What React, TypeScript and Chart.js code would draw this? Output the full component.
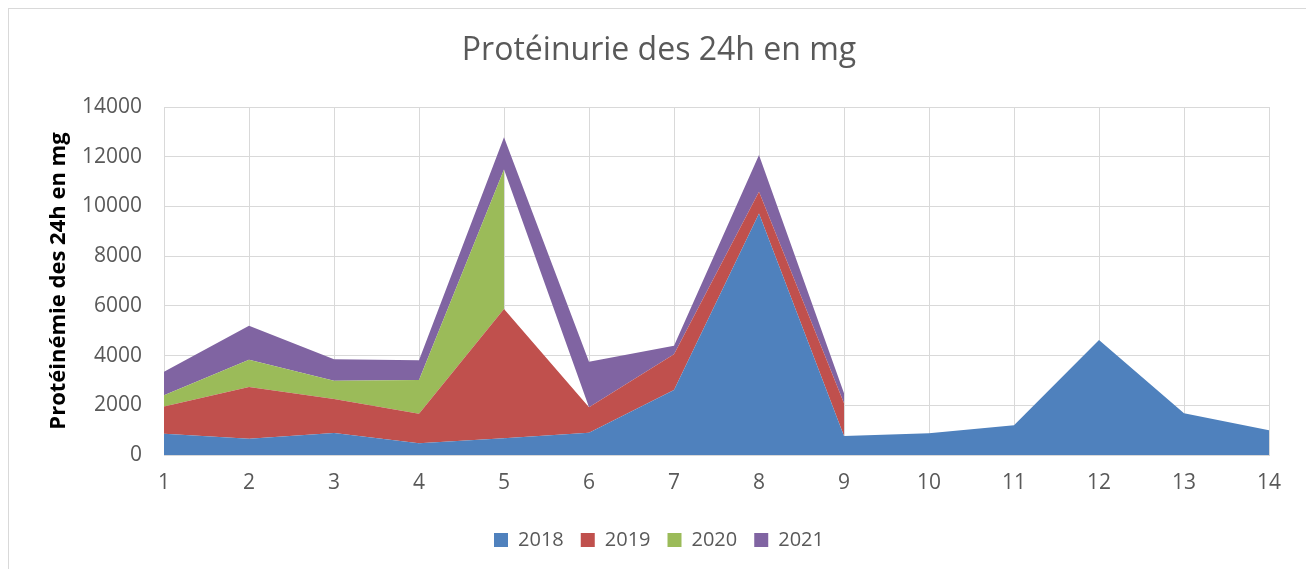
import React, { useEffect, useRef } from "react";
import { Chart, registerables } from "chart.js";

Chart.register(...registerables);

const categories = ["1", "2", "3", "4", "5", "6", "7", "8", "9", "10", "11", "12", "13", "14"];
const values2018 = [850, 655, 885, 470, 670, 900, 2615, 9720, 765, 880, 1200, 4630, 1680, 1000];
const values2019 = [1100, 2080, 1365, 1190, 5200, 1020, 1435, 870, 1315, null, null, null, null, null];
const values2020 = [450, 1100, 740, 1360, 5620, null, null, null, null, null, null, null, null, null];
const values2021 = [950, 1360, 860, 790, 1290, 1830, 350, 1480, 400, null, null, null, null, null];
const seriesNames = ["2018", "2019", "2020", "2021"];
const yTicks = [0, 2000, 4000, 6000, 8000, 10000, 12000, 14000];

const COLORS = ["#4F81BD", "#C0504D", "#9BBB59", "#8064A2"];
const FONT = "'Open Sans', sans-serif";
const TEXT = "#595959";
const GRID = "#d9d9d9";

type V = number | null;

function stackOn(base: V[], add: V[]): V[] {
  return add.map((v, i) => (v == null || base[i] == null ? null : (base[i] as number) + v));
}

export default function App() {
  const ref = useRef<HTMLCanvasElement | null>(null);

  useEffect(() => {
    if (!ref.current) return;
    const top2018: V[] = values2018.slice();
    const top2019 = stackOn(top2018, values2019);
    const top2020 = stackOn(top2019, values2020);
    // base of 2021 band: stacked previous series (missing values count as 0)
    const base2021: V[] = values2021.map((v, i) =>
      v == null ? null : (values2018[i] || 0) + (values2019[i] || 0) + (values2020[i] || 0)
    );
    const top2021 = stackOn(base2021, values2021);

    const mk = (label: string, data: V[], color: string, fill: any) => ({
      label,
      data,
      backgroundColor: color,
      borderColor: "rgba(0,0,0,0)",
      borderWidth: 1,
      pointRadius: 0,
      pointHoverRadius: 0,
      fill,
      spanGaps: false,
      tension: 0,
    });

    const chart = new Chart(ref.current, {
      type: "line",
      data: {
        labels: categories,
        datasets: [
          mk(seriesNames[0], top2018, COLORS[0], "origin"),
          mk(seriesNames[1], top2019, COLORS[1], "-1"),
          mk(seriesNames[2], top2020, COLORS[2], "-1"),
          mk("base", base2021, "rgba(0,0,0,0)", false),
          mk(seriesNames[3], top2021, COLORS[3], "-1"),
        ],
      },
      options: {
        animation: false,
        responsive: false,
        devicePixelRatio: 1,
        layout: { padding: { left: 40, right: 40, top: 0, bottom: 9 } },
        plugins: {
          title: {
            display: true,
            text: "Protéinurie des 24h en mg",
            color: TEXT,
            font: { family: FONT, size: 32, weight: "normal" },
            padding: { top: 22.3, bottom: 37.3 },
          },
          legend: {
            position: "bottom",
            labels: {
              color: TEXT,
              font: { family: FONT, size: 20 },
              boxWidth: 14,
              boxHeight: 14,
              padding: 17,
              filter: (item: any) => item.text !== "base",
            },
          },
          tooltip: { enabled: false },
        },
        scales: {
          x: {
            type: "category",
            offset: false,
            grid: { color: GRID, drawTicks: false },
            border: { color: GRID },
            ticks: { color: TEXT, font: { family: FONT, size: 21 }, padding: 15, maxRotation: 0 },
            afterFit: (s: any) => {
              s.height = 58;
            },
          },
          y: {
            min: 0,
            max: 14000,
            afterBuildTicks: (s: any) => {
              s.ticks = yTicks.map((v) => ({ value: v }));
            },
            grid: { color: GRID, drawTicks: false },
            border: { color: GRID },
            ticks: {
              color: TEXT,
              font: { family: FONT, size: 21 },
              padding: 22,
              callback: (v: any) => String(v),
            },
            title: {
              display: true,
              text: "Protéinémie des 24h en mg",
              color: "#000000",
              font: { family: FONT, size: 22, weight: "bold" },
              padding: { top: -3, bottom: 0 },
            },
            afterFit: (s: any) => {
              s.width = 115;
            },
          },
        },
      },
    });
    return () => chart.destroy();
  }, []);

  return (
    <div
      style={{
        position: "relative",
        width: 1302,
        height: 575,
        border: `1px solid ${GRID}`,
        boxSizing: "border-box",
        background: "#ffffff",
      }}
    >
      <canvas ref={ref} width={1300} height={560} style={{ display: "block" }} />
    </div>
  );
}
